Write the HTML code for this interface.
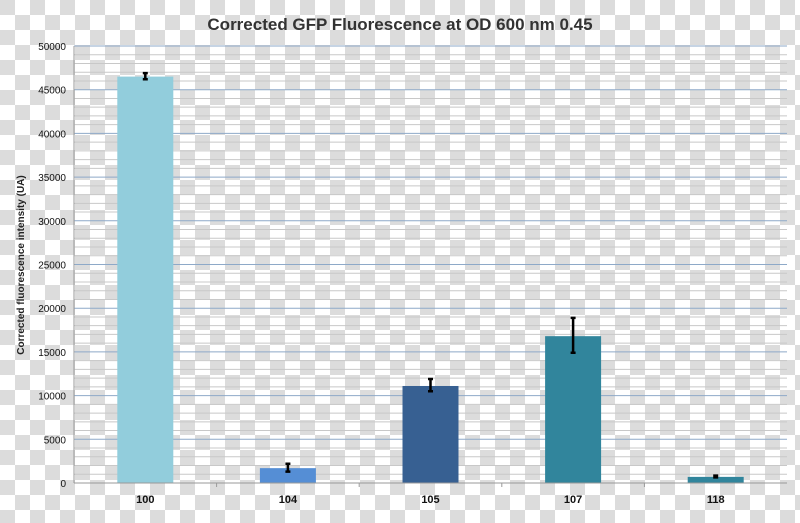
<!DOCTYPE html>
<html><head><meta charset="utf-8"><style>
html,body{margin:0;padding:0;}
body{width:800px;height:523px;overflow:hidden;background-color:#fff;
background-image:linear-gradient(45deg,#dcdcdc 25%,transparent 25%,transparent 75%,#dcdcdc 75%),linear-gradient(45deg,#dcdcdc 25%,transparent 25%,transparent 75%,#dcdcdc 75%);
background-size:30px 30px;background-position:15px 0,0 15px;}
svg{position:absolute;left:0;top:0;font-family:"Liberation Sans",sans-serif;}
</style></head><body>
<svg id="chart" width="800" height="523">
<text x="400" y="30" text-anchor="middle" font-size="17" font-weight="bold" fill="#333">Corrected GFP Fluorescence at OD 600 nm 0.45</text>
<text transform="translate(24,265) rotate(-90)" text-anchor="middle" font-size="10" font-weight="bold" fill="#222">Corrected fluorescence intensity (UA)</text>
<g id="grid"></g><g id="bars"></g><g id="axes"></g>
</svg>
<script>
const categories=["100","104","105","107","118"];
const values=[46500,1700,11100,16800,700];
const errLow=[46200,1300,10500,14900,650];
const errHigh=[46900,2200,11900,18900,850];
const colors=["#92cddc","#558ed5","#376092","#31859c","#31859c"];
const yTicks=[0,5000,10000,15000,20000,25000,30000,35000,40000,45000,50000];
const NS="http://www.w3.org/2000/svg";
const x0=74,x1=787,y0=483,y1=46,yMax=50000;
const y=v=>y0-(v/yMax)*(y0-y1);
const band=(x1-x0)/categories.length;
const xc=i=>x0+band*(i+0.5);
function mk(tag,attrs,parent){const e=document.createElementNS(NS,tag);for(const k in attrs)e.setAttribute(k,attrs[k]);parent.appendChild(e);return e;}
const grid=document.getElementById('grid'),bars=document.getElementById('bars'),axes=document.getElementById('axes');
for(let v=1000;v<=yMax;v+=1000){
 if(v%5000===0)continue;
 const l=mk('line',{x1:x0,x2:x1,y1:y(v),y2:y(v),stroke:'#c8c8c8','stroke-width':1},grid);
 
 
}
yTicks.forEach(v=>{
 if(v>0){const l=mk('line',{x1:x0,x2:x1,y1:y(v),y2:y(v),stroke:'#8ea9c8','stroke-width':1},grid);
 
 }
 const t=mk('text',{x:x0-8,y:y(v)+4,'text-anchor':'end','font-size':10,fill:'#111'},axes);
 t.textContent=String(v);
 
 
});
const bw=56;
categories.forEach((c,i)=>{
 const r=mk('rect',{x:xc(i)-bw/2,y:y(values[i]),width:bw,height:y0-y(values[i]),fill:colors[i]},bars);
 
 
 const e=mk('path',{d:`M${xc(i)},${y(errLow[i])}V${y(errHigh[i])}M${xc(i)-2.5},${y(errLow[i])}h5M${xc(i)-2.5},${y(errHigh[i])}h5`,stroke:'#000','stroke-width':2.5,fill:'none'},bars);
 
 
 const t=mk('text',{x:xc(i),y:y0+20,'text-anchor':'middle','font-size':11,'font-weight':'bold',fill:'#111'},axes);
 t.textContent=c;
 
 
 if(i>0){const tk=mk('line',{x1:x0+band*i,x2:x0+band*i,y1:y0,y2:y0+4,stroke:'#999'},axes);
 
 }
});
const xa=mk('line',{x1:x0,x2:x1,y1:y0,y2:y0,stroke:'#999'},axes);


const ya=mk('line',{x1:x0,x2:x0,y1:y1,y2:y0,stroke:'#999'},axes);


</script>
</body></html>
